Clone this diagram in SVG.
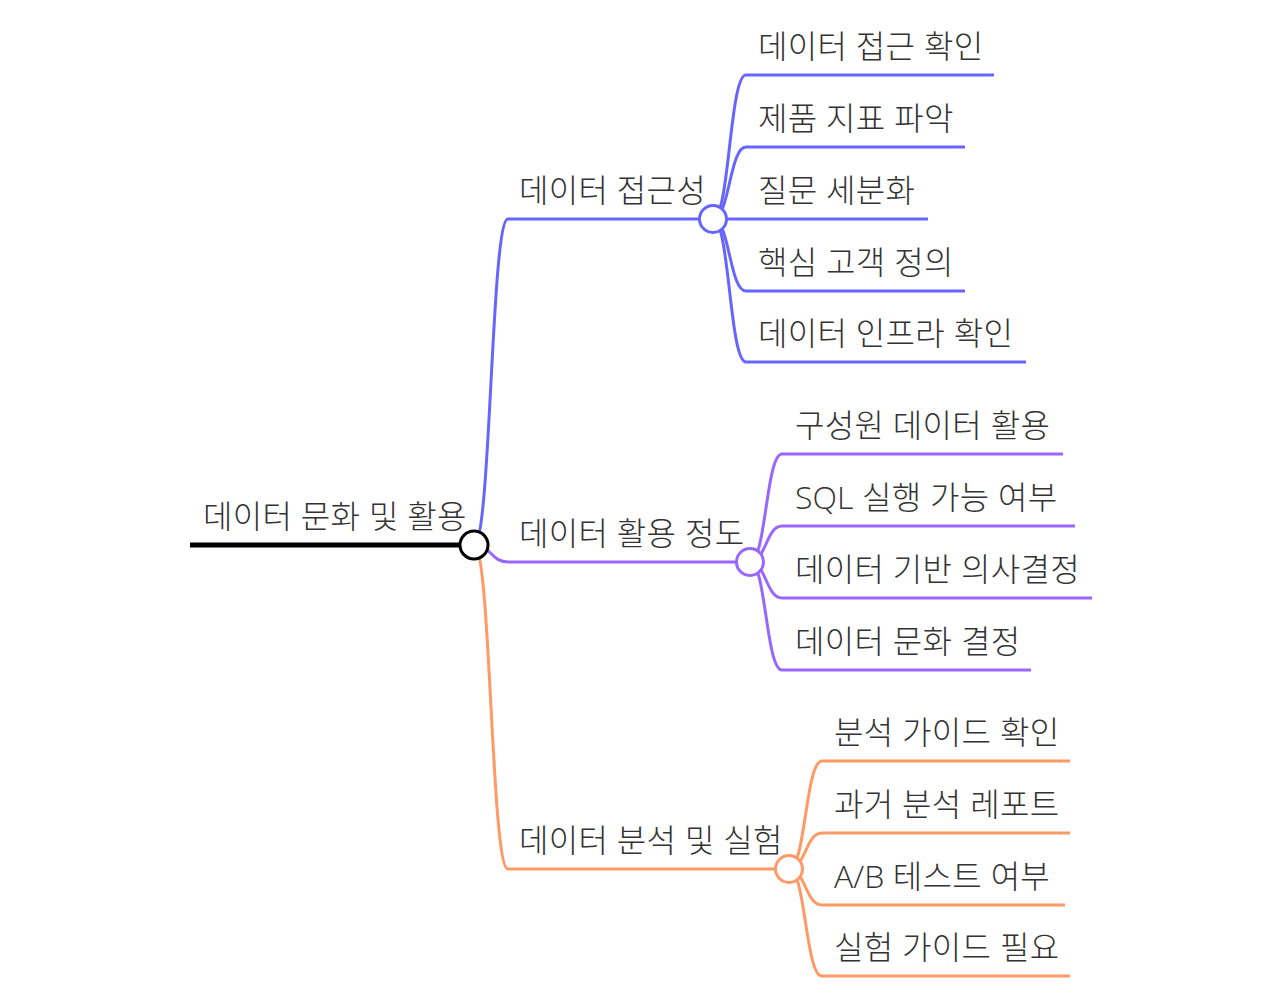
<svg xmlns="http://www.w3.org/2000/svg" width="1280" height="1000" viewBox="0 0 1280 1000">
<style>
text{font-family:"Open Sans","Noto Sans CJK KR",sans-serif;font-size:32px;font-weight:300;fill:#333;letter-spacing:0.3px}
.lat{letter-spacing:0}
.l{fill:none;stroke-width:3;stroke-linecap:butt}
.b{stroke:#6666FF}.p{stroke:#9966FF}.o{stroke:#FF9966}.k{stroke:#000}
circle{fill:#fff;stroke-width:3}
</style>
<rect width="1280" height="1000" fill="#fff"/>
<g id="connectors">
<path class="l b" d="M474,545 C491,545 491,219 508,219"/>
<path class="l p" d="M474,545 C491,545 491,562 508,562"/>
<path class="l o" d="M474,545 C491,545 491,869 508,869"/>
<path class="l b" d="M713,219 C729.5,219 729.5,75 746,75"/>
<path class="l b" d="M713,219 C729.5,219 729.5,147 746,147"/>
<path class="l b" d="M713,219 L746,219"/>
<path class="l b" d="M713,219 C729.5,219 729.5,291 746,291"/>
<path class="l b" d="M713,219 C729.5,219 729.5,362 746,362"/>
<path class="l p" d="M750,562 C766,562 766,454 782,454"/>
<path class="l p" d="M750,562 C766,562 766,526 782,526"/>
<path class="l p" d="M750,562 C766,562 766,598 782,598"/>
<path class="l p" d="M750,562 C766,562 766,670 782,670"/>
<path class="l o" d="M789,869 C805.5,869 805.5,761 822,761"/>
<path class="l o" d="M789,869 C805.5,869 805.5,833 822,833"/>
<path class="l o" d="M789,869 C805.5,869 805.5,905 822,905"/>
<path class="l o" d="M789,869 C805.5,869 805.5,976 822,976"/>
</g>
<g id="root">
<line x1="190" y1="545" x2="474" y2="545" stroke="#000" stroke-width="5"/>
<text x="203" y="528">데이터 문화 및 활용</text>
</g>
<g id="n1">
<line class="l b" x1="508" y1="219" x2="713" y2="219"/>
<text x="519" y="202">데이터 접근성</text>
</g>
<g id="n2">
<line class="l p" x1="508" y1="562" x2="750" y2="562"/>
<text x="519" y="545">데이터 활용 정도</text>
</g>
<g id="n3">
<line class="l o" x1="508" y1="869" x2="789" y2="869"/>
<text x="519" y="852">데이터 분석 및 실험</text>
</g>
<g id="n1a"><line class="l b" x1="746" y1="75" x2="994" y2="75"/><text x="758" y="58">데이터 접근 확인</text></g>
<g id="n1b"><line class="l b" x1="746" y1="147" x2="965" y2="147"/><text x="758" y="130">제품 지표 파악</text></g>
<g id="n1c"><line class="l b" x1="746" y1="219" x2="928" y2="219"/><text x="758" y="202">질문 세분화</text></g>
<g id="n1d"><line class="l b" x1="746" y1="291" x2="965" y2="291"/><text x="758" y="274">핵심 고객 정의</text></g>
<g id="n1e"><line class="l b" x1="746" y1="362" x2="1026" y2="362"/><text x="758" y="345">데이터 인프라 확인</text></g>
<g id="n2a"><line class="l p" x1="782" y1="454" x2="1063" y2="454"/><text x="795" y="437">구성원 데이터 활용</text></g>
<g id="n2b"><line class="l p" x1="782" y1="526" x2="1075" y2="526"/><text x="795" y="509"><tspan class="lat">SQL</tspan> 실행 가능 여부</text></g>
<g id="n2c"><line class="l p" x1="782" y1="598" x2="1092" y2="598"/><text x="795" y="581">데이터 기반 의사결정</text></g>
<g id="n2d"><line class="l p" x1="782" y1="670" x2="1031" y2="670"/><text x="795" y="653">데이터 문화 결정</text></g>
<g id="n3a"><line class="l o" x1="822" y1="761" x2="1070" y2="761"/><text x="834" y="744">분석 가이드 확인</text></g>
<g id="n3b"><line class="l o" x1="822" y1="833" x2="1070" y2="833"/><text x="834" y="816">과거 분석 레포트</text></g>
<g id="n3c"><line class="l o" x1="822" y1="905" x2="1065" y2="905"/><text x="834" y="888"><tspan class="lat">A/B</tspan> 테스트 여부</text></g>
<g id="n3d"><line class="l o" x1="822" y1="976" x2="1070" y2="976"/><text x="834" y="959">실험 가이드 필요</text></g>
<g id="circles">
<circle cx="474" cy="545" r="14" stroke="#000"/>
<circle cx="713" cy="219" r="13.5" stroke="#6666FF"/>
<circle cx="750" cy="562" r="13.5" stroke="#9966FF"/>
<circle cx="789" cy="869" r="13.5" stroke="#FF9966"/>
</g>
</svg>
